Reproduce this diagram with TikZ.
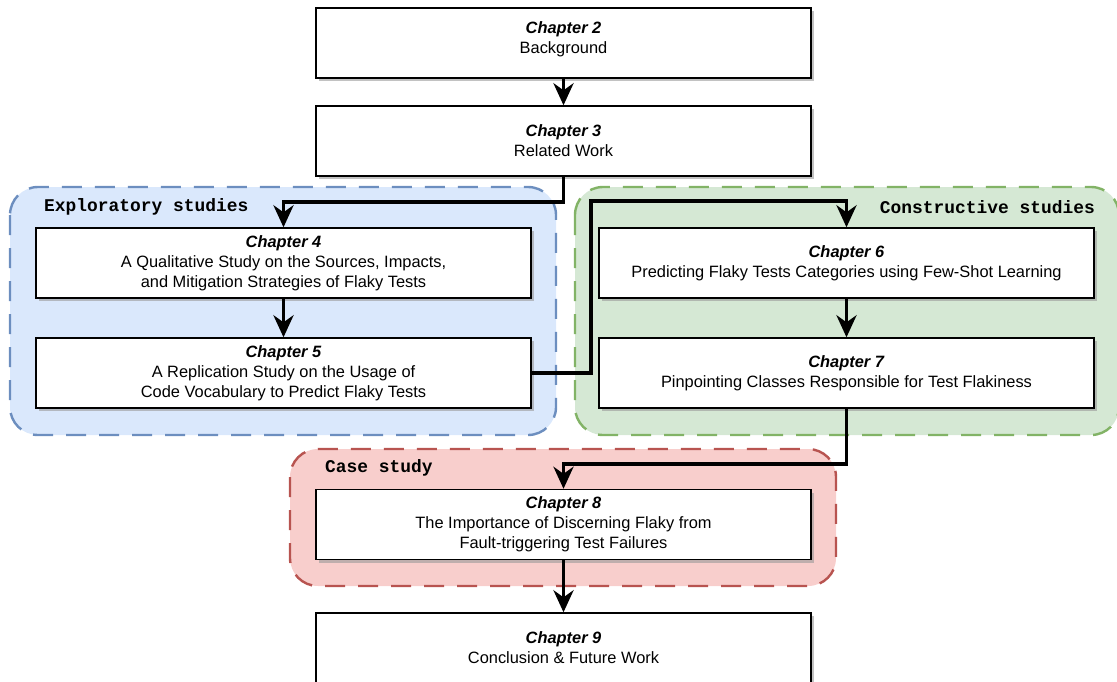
\documentclass[tikz,border=0pt]{standalone}
\usepackage{fontspec}
\setmainfont{Liberation Sans}
\setmonofont{Liberation Mono}
\usetikzlibrary{arrows.meta,shadows}
\definecolor{bluefill}{HTML}{DAE8FC}
\definecolor{bluedraw}{HTML}{6C8EBF}
\definecolor{greenfill}{HTML}{D5E8D4}
\definecolor{greendraw}{HTML}{82B366}
\definecolor{redfill}{HTML}{F8CECC}
\definecolor{reddraw}{HTML}{B85450}
\tikzset{
  chap/.style={draw=black, line width=1.4pt, fill=white, minimum width=495pt,
    minimum height=70pt, align=center, inner sep=0pt,
    font=\fontsize{16.4}{20}\selectfont,
    drop shadow={shadow xshift=3pt, shadow yshift=-3pt, fill=black!40, opacity=0.6}},
  grp/.style={rounded corners=28pt, line width=2.4pt, dash pattern=on 20pt off 13pt},
  flow/.style={line width=3.8pt, -{Stealth[length=22pt,width=20pt,inset=7pt]}},
  glabel/.style={font=\ttfamily\bfseries\fontsize{17.9}{20}\selectfont, inner sep=0pt}
}
\newcommand{\chaptitle}[1]{\textbf{\textit{#1}}}
\begin{document}
\begin{tikzpicture}[x=1pt,y=-1pt]
\useasboundingbox (0,0) rectangle (1117,681);
\clip (0,0) rectangle (1117,681);
% groups
\draw[grp, draw=bluedraw, fill=bluefill] (10,187) rectangle (556,435);
\draw[grp, draw=greendraw, fill=greenfill] (575,187) rectangle (1119,435);
\draw[grp, draw=reddraw, fill=redfill] (290,449) rectangle (836,586);
\node[glabel, anchor=west] (lexp) at (44,207) {Exploratory studies};
\node[glabel, anchor=east] (lcon) at (1095,207) {Constructive studies};
\node[glabel, anchor=west] (lcase) at (325,468) {Case study};
% chapters
\node[chap] (ch2) at (563.5,43) {\chaptitle{Chapter 2}\\Background\\[-9pt]\mbox{}};
\node[chap] (ch3) at (563.5,141) {\chaptitle{Chapter 3}\\Related Work};
\node[chap] (ch4) at (283.5,263) {\chaptitle{Chapter 4}\\A Qualitative Study on the Sources, Impacts,\\and Mitigation Strategies of Flaky Tests};
\node[chap] (ch5) at (283.5,373) {\chaptitle{Chapter 5}\\A Replication Study on the Usage of\\Code Vocabulary to Predict Flaky Tests};
\node[chap] (ch6) at (846.5,263) {\chaptitle{Chapter 6}\\Predicting Flaky Tests Categories using Few-Shot Learning};
\node[chap] (ch7) at (846.5,373) {\chaptitle{Chapter 7}\\Pinpointing Classes Responsible for Test Flakiness};
\node[chap] (ch8) at (563.5,524.5) {\chaptitle{Chapter 8}\\The Importance of Discerning Flaky from\\Fault-triggering Test Failures};
\node[chap] (ch9) at (563.5,648) {\chaptitle{Chapter 9}\\Conclusion \& Future Work};
% connectors
\draw[flow] (ch2) -- (ch3);
\draw[flow] (ch3.south) -- ++(0,25) -| (ch4.north);
\draw[flow] (ch4) -- (ch5);
\draw[flow] (ch5.east) -| (591,201) -| (ch6.north);
\draw[flow] (ch6) -- (ch7);
\draw[flow] (ch7.south) -- ++(0,55) -| (ch8.north);
\draw[flow] (ch8) -- (ch9);
\end{tikzpicture}
\end{document}
